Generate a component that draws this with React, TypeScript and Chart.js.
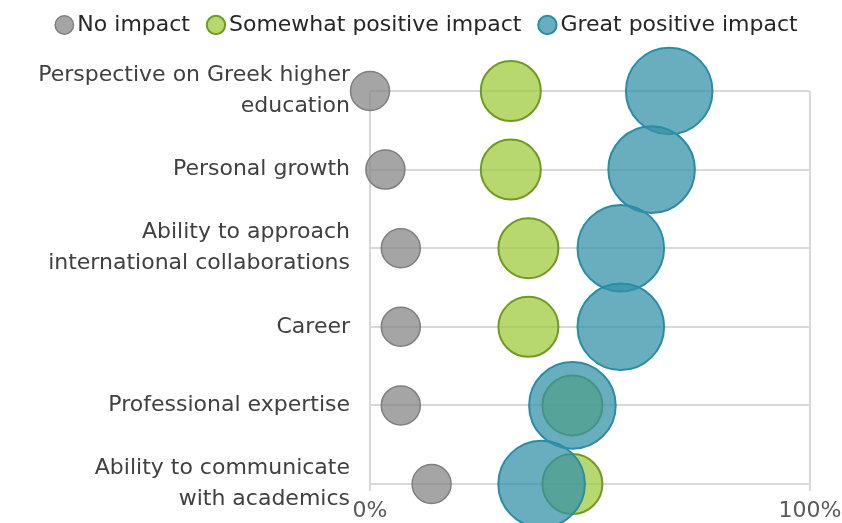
import React, { useEffect, useRef } from "react";
import { Chart, registerables } from "chart.js";

Chart.register(...registerables);

const categories: string[][] = [
  ["Perspective on Greek higher", "education"],
  ["Personal growth"],
  ["Ability to approach", "international collaborations"],
  ["Career"],
  ["Professional expertise"],
  ["Ability to communicate", "with academics"],
];
const seriesNames = ["No impact", "Somewhat positive impact", "Great positive impact"];
const noImpact = [0, 3.5, 7, 7, 7, 14];
const somewhatPositive = [32, 32, 36, 36, 46, 46];
const greatPositive = [68, 64, 57, 57, 46, 39];
const xTickValues = [0, 100];

const FONT = "DejaVu Sans";

export default function App() {
  const ref = useRef<HTMLCanvasElement>(null);

  useEffect(() => {
    if (!ref.current) return;
    const toPoints = (vals: number[]) => vals.map((v, i) => ({ x: v, y: i }));

    const legendFit = {
      id: "legendFit",
      beforeInit(chart: any) {
        const lg = chart.legend;
        if (!lg) return;
        const orig = lg.fit;
        lg.fit = function () {
          orig.call(this);
          this.height = 101;
        };
      },
      afterLayout(chart: any) {
        const lg = chart.legend;
        if (!lg) return;
        lg.left += 25;
        lg.right += 25;
      },
    };

    const zeroPad = (s: any) => {
      s.paddingLeft = 0;
      s.paddingRight = 0;
      s.paddingTop = 0;
      s.paddingBottom = 0;
    };

    const chart = new Chart(ref.current, {
      type: "bubble",
      data: {
        datasets: [
          {
            label: seriesNames[0],
            data: toPoints(noImpact),
            backgroundColor: "rgba(133,133,133,0.74)",
            borderColor: "#7f7f7f",
            borderWidth: 1.5,
            radius: 19.5,
            order: 2,
            clip: false,
          } as any,
          {
            label: seriesNames[1],
            data: toPoints(somewhatPositive),
            backgroundColor: "rgba(157,203,59,0.74)",
            borderColor: "#6f9a1f",
            borderWidth: 2,
            radius: 30,
            order: 1,
            clip: false,
          } as any,
          {
            label: seriesNames[2],
            data: toPoints(greatPositive),
            backgroundColor: "rgba(53,146,169,0.74)",
            borderColor: "#2b8ca6",
            borderWidth: 2,
            radius: 43.3,
            order: 0,
            clip: false,
          } as any,
        ],
      },
      options: {
        animation: false,
        responsive: false,
        events: [],
        layout: { autoPadding: false, padding: { top: -10, left: 0, right: 32, bottom: 0 } },
        plugins: {
          tooltip: { enabled: false },
          legend: {
            position: "top",
            labels: {
              usePointStyle: true,
              pointStyle: "circle",
              boxWidth: 4,
              boxHeight: 13,
              padding: 24,
              color: "#262626",
              font: { family: FONT, size: 22 },
              sort: (a: any, b: any) => a.datasetIndex - b.datasetIndex,
            },
          },
        },
        scales: {
          x: {
            type: "linear",
            min: 0,
            max: 100,
            afterBuildTicks: (s: any) => {
              s.ticks = xTickValues.map((v) => ({ value: v }));
            },
            afterFit: (s: any) => {
              s.height = 39;
              zeroPad(s);
            },
            ticks: {
              callback: (v: any) => v + "%",
              color: "#595959",
              font: { family: FONT, size: 22 },
              padding: 7,
              maxRotation: 0,
              autoSkip: false,
            },
            grid: { color: "#d9d9d9", lineWidth: 2, tickLength: 7 },
            border: { display: false },
          },
          y: {
            type: "linear",
            reverse: true,
            min: 0,
            max: categories.length - 1,
            afterBuildTicks: (s: any) => {
              s.ticks = categories.map((_, i) => ({ value: i }));
            },
            afterFit: (s: any) => {
              s.width = 370;
              zeroPad(s);
            },
            ticks: {
              callback: (v: any) => categories[v as number],
              color: "#404040",
              font: { family: FONT, size: 22, lineHeight: 1.41 },
              padding: 20,
              autoSkip: false,
            },
            grid: { color: "#d9d9d9", lineWidth: 2, drawTicks: false },
            border: { display: false },
          },
        },
      } as any,
      plugins: [legendFit],
    });

    return () => chart.destroy();
  }, []);

  return (
    <div style={{ position: "absolute", top: 0, left: 0, width: 842, height: 523 }}>
      <canvas ref={ref} width={842} height={523} style={{ display: "block" }} />
    </div>
  );
}
